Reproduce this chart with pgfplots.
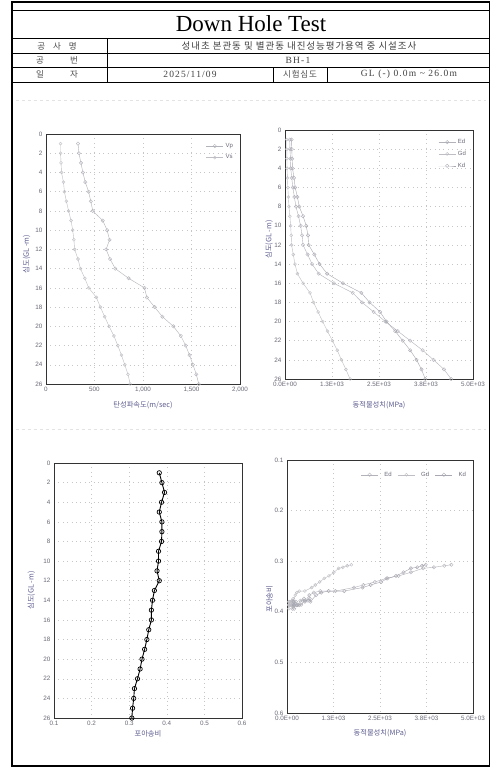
\documentclass[border=0pt]{standalone}
\usepackage{pgfplots}
\usepackage{pgfplotstable}
\pgfplotsset{compat=1.18}
\usepackage{fontspec}
\setmainfont{Liberation Serif}
\newfontfamily\kr{Noto Sans CJK KR}
\newfontfamily\krw[LetterSpace=10]{Noto Sans CJK KR}
\newfontfamily\sans{Liberation Sans}
\newfontfamily\hdr[LetterSpace=12]{Liberation Serif}
\definecolor{tickc}{RGB}{105,105,120}
\definecolor{labc}{RGB}{95,95,145}
\definecolor{serA}{RGB}{178,178,186}
\definecolor{serB}{RGB}{190,190,196}
\definecolor{serC}{RGB}{168,168,178}

\pgfplotstableread{
d Vs Vp nu Gd Ed Kd
1 150 330 0.380 45 125 175
2 150 340 0.387 48 133 180
3 155 360 0.394 52 145 190
4 160 380 0.386 55 152 200
5 180 405 0.380 65 180 240
6 190 439 0.387 75 208 270
7 210 462 0.387 90 250 330
8 233 482 0.386 105 290 380
9 258 585 0.378 130 360 480
10 275 630 0.378 150 415 565
11 288 655 0.374 165 455 610
12 295 620 0.380 175 480 630
13 330 660 0.367 220 600 780
14 355 714 0.362 265 720 920
15 400 851 0.359 330 895 1120
16 440 1015 0.359 480 1300 1540
17 520 1040 0.352 665 1800 2030
18 560 1120 0.347 760 2050 2250
19 605 1200 0.341 880 2360 2530
20 650 1313 0.334 1000 2670 2700
21 700 1390 0.329 1130 3000 2930
22 740 1440 0.322 1260 3330 3130
23 778 1480 0.314 1390 3660 3330
24 812 1515 0.312 1500 3950 3500
25 845 1550 0.309 1620 4230 3630
26 868 1575 0.307 1730 4420 3730
}\data

\pgfplotsset{
  base/.style={
    scale only axis, anchor=north west,
    axis line style={draw=black!80, line width=0.9pt},
    grid=major,
    major grid style={loosely dotted, draw=gray!45, line width=0.5pt},
    major tick length=0pt,
    tick label style={font=\sans\fontsize{6.3}{7}\selectfont, text=tickc},
    /pgf/number format/assume math mode=true,
    label style={font=\kr\fontsize{7.3}{8}\selectfont, text=labc},
    legend style={draw=none, fill=none, font=\sans\fontsize{6}{7}\selectfont, text=tickc},
    legend cell align=left,
  },
  sA/.style={color=serA, line width=0.4pt, mark=o, mark size=1.7pt, mark options={solid}},
  sB/.style={color=serB, line width=0.4pt, mark=o, mark size=1.5pt, mark options={solid}},
  sC/.style={color=serC, line width=0.4pt, mark=o, mark size=1.7pt, mark options={solid}},
}

\begin{document}
\begin{tikzpicture}
\begin{scope}[x=1pt,y=-1pt]
\fill[white] (0,0) rectangle (493,769);
% outer frame
\draw[line width=1.6pt] (11,2) -- (490,2);
\draw[line width=0.5pt] (11,10) -- (490,10);
\draw[line width=1.8pt] (12,2) -- (12,766);
\draw[line width=0.9pt] (489.5,2) -- (489.5,766);
\draw[line width=1.6pt] (11,766) -- (490,766);
% header table
\draw[line width=0.6pt] (11,38) -- (490,38);
\draw[line width=0.5pt] (11,53) -- (490,53);
\draw[line width=0.5pt] (11,67) -- (490,67);
\draw[line width=1.0pt] (11,82) -- (490,82);
\draw[line width=0.5pt] (107,38) -- (107,82);
\draw[line width=0.5pt] (273,67) -- (273,82);
\draw[line width=0.5pt] (327,67) -- (327,82);
% faint separators
\draw[gray!22, line width=0.4pt, dashed] (16,100) -- (486,100);
\draw[gray!22, line width=0.4pt, dashed] (16,429) -- (486,429);
\node[font=\fontsize{23}{26}\selectfont] at (251,24) {Down Hole Test};
\node[font=\kr\fontsize{8.5}{9}\selectfont, text=black!70] at (57,46) {공\hspace{8pt}사\hspace{8pt}명};
\node[font=\kr\fontsize{8.5}{9}\selectfont, text=black!70] at (57,60) {공\hspace{26pt}번};
\node[font=\kr\fontsize{8.5}{9}\selectfont, text=black!70] at (57,74.5) {일\hspace{26pt}자};
\node[font=\krw\fontsize{9.5}{10}\selectfont, text=black!75] at (299,46) {성내초 본관동 및 별관동 내진성능평가용역 중 시설조사};
\node[font=\hdr\fontsize{9.5}{10}\selectfont, text=black!75] at (298,60) {BH-1};
\node[font=\hdr\fontsize{9.5}{10}\selectfont, text=black!75] at (190,74.5) {2025/11/09};
\node[font=\krw\fontsize{8.5}{9}\selectfont, text=black!70] at (300,74.5) {시험심도};
\node[font=\hdr\fontsize{9.5}{10}\selectfont, text=black!75] at (409,74.5) {GL (-) 0.0m \textasciitilde\ 26.0m};
\end{scope}

% top-left: wave velocity
\begin{axis}[base, at={(46pt,-134pt)}, width=194pt, height=250pt,
  xmin=0, xmax=2000, ymin=0, ymax=26, y dir=reverse,
  xtick={0,500,1000,1500,2000}, xticklabels={0,500,{1,000},{1,500},{2,000}},
  ytick={0,2,...,26},
  xlabel={탄성파속도(m/sec)}, ylabel={심도(GL -m)},
  xlabel style={at={(axis description cs:0.5,-0.086)}, anchor=center},
  ylabel style={at={(axis description cs:-0.1,0.52)}, anchor=center},
  legend style={at={(0.99,0.98)}, anchor=north east, row sep=2pt},
]
\addplot[sA] table[x=Vp, y=d] {\data};
\addlegendentry{Vp}
\addplot[sB] table[x=Vs, y=d] {\data};
\addlegendentry{Vs}
\end{axis}

% top-right: dynamic moduli vs depth
\begin{axis}[base, at={(285pt,-130pt)}, width=188pt, height=249pt,
  xmin=0, xmax=5000, ymin=0, ymax=26, y dir=reverse,
  xtick={0,1250,2500,3750,5000}, xticklabels={0.0E+00,1.3E+03,2.5E+03,3.8E+03,5.0E+03},
  ytick={0,2,...,26},
  xlabel={동적물성치(MPa)}, ylabel={심도(GL -m)},
  xlabel style={at={(axis description cs:0.5,-0.104)}, anchor=center},
  ylabel style={at={(axis description cs:-0.085,0.56)}, anchor=center},
  legend style={at={(0.99,0.98)}, anchor=north east, row sep=2pt},
]
\addplot[sA] table[x=Ed, y=d] {\data};
\addlegendentry{Ed}
\addplot[sB] table[x=Gd, y=d] {\data};
\addlegendentry{Gd}
\addplot[sC] table[x=Kd, y=d] {\data};
\addlegendentry{Kd}
\end{axis}

% bottom-left: Poisson's ratio vs depth
\begin{axis}[base, at={(54pt,-463pt)}, width=188pt, height=255pt,
  xmin=0.1, xmax=0.6, ymin=0, ymax=26, y dir=reverse,
  xtick={0.1,0.2,0.3,0.4,0.5,0.6}, xticklabels={0.1,0.2,0.3,0.4,0.5,0.6},
  ytick={0,2,...,26},
  xlabel={포아송비}, ylabel={심도(GL -m)},
  xlabel style={at={(axis description cs:0.5,-0.06)}, anchor=center},
  ylabel style={at={(axis description cs:-0.12,0.5)}, anchor=center},
]
\addplot[black, line width=0.9pt, mark=o, mark size=2.2pt, mark options={solid, fill=white, line width=0.7pt}] table[x=nu, y=d] {\data};
\end{axis}

% bottom-right: Poisson's ratio vs moduli
\begin{axis}[base, at={(287pt,-460pt)}, width=186pt, height=253pt,
  xmin=0, xmax=5000, ymin=0.1, ymax=0.6, y dir=reverse,
  xtick={0,1250,2500,3750,5000}, xticklabels={0.0E+00,1.3E+03,2.5E+03,3.8E+03,5.0E+03},
  ytick={0.1,0.2,0.3,0.4,0.5,0.6}, yticklabels={0.1,0.2,0.3,0.4,0.5,0.6},
  xlabel={동적물성치(MPa)}, ylabel={포아송비},
  xlabel style={at={(axis description cs:0.5,-0.08)}, anchor=center},
  ylabel style={at={(axis description cs:-0.095,0.45)}, anchor=center},
  legend style={at={(0.99,0.97)}, anchor=north east, legend columns=3, column sep=4pt},
]
\addplot[sA] table[x=Ed, y=nu] {\data};
\addlegendentry{Ed}
\addplot[sB] table[x=Gd, y=nu] {\data};
\addlegendentry{Gd}
\addplot[sC] table[x=Kd, y=nu] {\data};
\addlegendentry{Kd}
\end{axis}

\pgfresetboundingbox
\path (0pt,0pt) rectangle (493pt,-769pt);
\end{tikzpicture}
\end{document}
